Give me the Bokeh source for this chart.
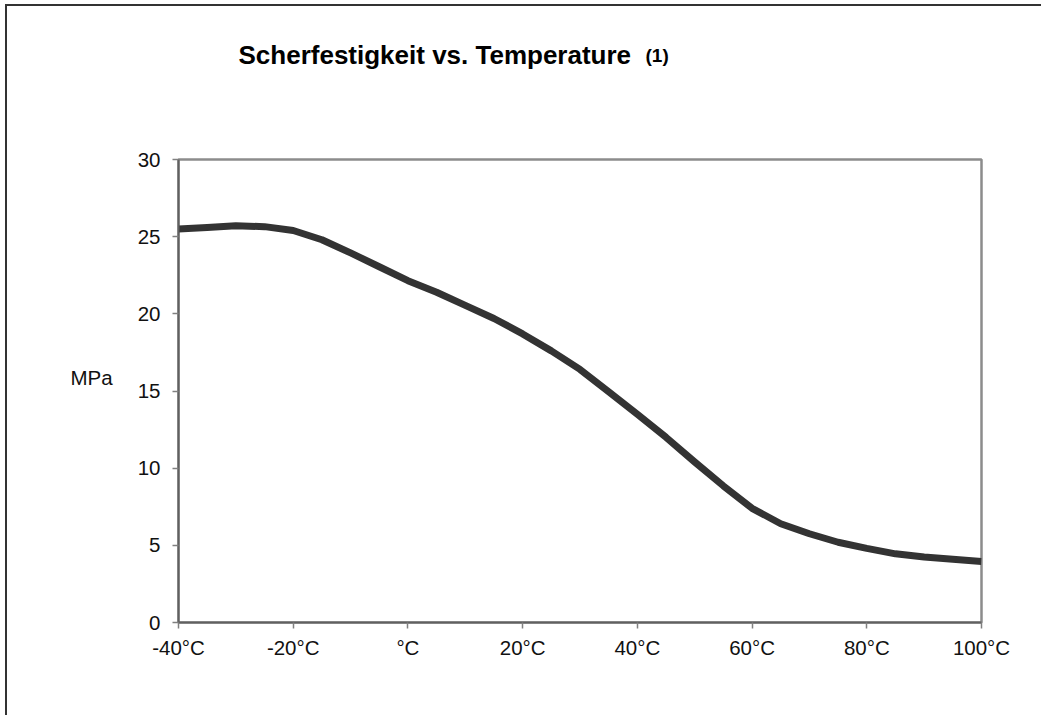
from bokeh.plotting import figure
from bokeh.models import Range1d, FixedTicker, Title
from bokeh.embed import file_html
from bokeh.resources import INLINE

# ---- data ----
temps = [-40, -35, -30, -25, -20, -15, -10, -5, 0, 5, 10, 15, 20, 25, 30, 35,
         40, 45, 50, 55, 60, 65, 70, 75, 80, 85, 90, 95, 100]
shear_mpa = [25.5, 25.6, 25.7, 25.65, 25.4, 24.8, 23.95, 23.05, 22.15, 21.4,
             20.55, 19.7, 18.7, 17.6, 16.4, 14.95, 13.5, 12.0, 10.4, 8.85,
             7.4, 6.4, 5.75, 5.2, 4.8, 4.45, 4.25, 4.1, 3.95]
x_ticks = [-40, -20, 0, 20, 40, 60, 80, 100]
x_tick_labels = ["-40°C", "-20°C", "°C", "20°C", "40°C", "60°C", "80°C", "100°C"]
y_ticks = [0, 5, 10, 15, 20, 25, 30]
title_main = "Scherfestigkeit vs. Temperature"
title_note = "(1)"
y_label = "MPa\n"

FONT = "Liberation Sans"

p = figure(width=1036, height=711, output_backend="svg", toolbar_location=None,
           x_range=Range1d(-40, 100), y_range=Range1d(0, 30),
           min_border_left=171, min_border_right=62,
           min_border_top=153, min_border_bottom=95)
p.title.visible = False
p.styles = {"border-left": "2px solid #333333", "border-top": "2px solid #333333",
            "margin-left": "5px", "margin-top": "4px"}

p.line(temps, shear_mpa, line_color="#333333", line_width=7, line_join="round",
       line_cap="butt")

p.xgrid.visible = False
p.ygrid.visible = False
p.outline_line_color = "#8c8c8c"
p.outline_line_width = 2.5

for ax in (p.xaxis[0], p.yaxis[0]):
    ax.axis_line_color = "#606060"
    ax.axis_line_width = 2
    ax.major_tick_line_color = "#808080"
    ax.major_tick_line_width = 1.5
    ax.major_tick_in = 0
    ax.major_tick_out = 6
    ax.minor_tick_line_color = None
    ax.major_label_text_font = FONT
    ax.major_label_text_font_size = "20.5px"
    ax.major_label_text_color = "#111111"

p.xaxis.ticker = FixedTicker(ticks=x_ticks)
p.xaxis.major_label_overrides = {t: l for t, l in zip(x_ticks, x_tick_labels)}
p.xaxis.major_label_standoff = 7
p.yaxis.ticker = FixedTicker(ticks=y_ticks)
p.yaxis.major_label_standoff = 12
p.yaxis.axis_label = y_label
p.yaxis.axis_label_orientation = "horizontal"
p.yaxis.axis_label_text_font = FONT
p.yaxis.axis_label_text_font_size = "20.5px"
p.yaxis.axis_label_text_font_style = "normal"
p.yaxis.axis_label_text_color = "#111111"
p.yaxis.axis_label_standoff = 22

p.add_layout(Title(text=title_main, align="left", offset=60, standoff=-239,
                   vertical_align="top",
                   text_font=FONT, text_font_size="26px", text_font_style="bold",
                   text_color="#000000"), "above")
p.add_layout(Title(text=title_note, align="left", offset=467, standoff=-230,
                   vertical_align="top",
                   text_font=FONT, text_font_size="19px", text_font_style="bold",
                   text_color="#000000"), "above")

open("out.html", "w").write(file_html(p, INLINE))
